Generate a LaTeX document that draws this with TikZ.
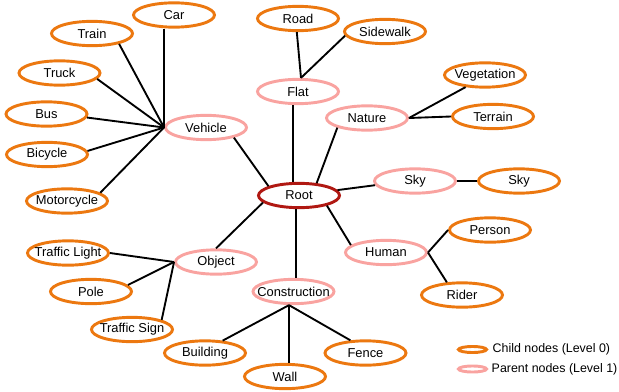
\documentclass[tikz,border=0pt]{standalone}
\usepackage{fontspec}
\setmainfont{Liberation Sans}
\usetikzlibrary{calc,shapes.geometric}
\definecolor{childorange}{RGB}{236,120,16}
\definecolor{parentpink}{RGB}{249,163,160}
\definecolor{rootred}{RGB}{176,24,18}
\newcommand{\lbl}[1]{\makebox[0pt]{#1}}
\tikzset{
	basenode/.style={ellipse, line width=2.5pt, minimum width=2.43cm, minimum height=0.73cm, inner sep=0pt, fill=white, font=\fontsize{11}{13}\selectfont},
	childnode/.style={basenode, draw=childorange},
	parentnode/.style={basenode, draw=parentpink},
	rootnode/.style={basenode, draw=rootred},
	keynode/.style={minimum width=0.84cm, minimum height=0.18cm},
	keytext/.style={anchor=west, inner sep=0pt, font=\fontsize{10.6}{13}\selectfont},
	link/.style={line width=1.6pt, black},
}

\begin{document}
\begin{tikzpicture}[x=0.03cm, y=-0.03cm]
		%%%%% START %%%%%
		\useasboundingbox (0, 0) rectangle (619, 391);
		
		\node[rootnode] (root) at (299, 195.5) {\lbl{Root}};
		
		\node[parentnode] (vehicle) at (206, 127.5) {\lbl{Vehicle}};
		\node[parentnode] (flat) at (298, 91.5) {\lbl{Flat}};
		\node[parentnode] (nature) at (367, 118) {\lbl{Nature}};
		\node[parentnode] (skyparent) at (415, 181) {\lbl{Sky}};
		\node[parentnode] (human) at (386, 252.5) {\lbl{Human}};
		\node[parentnode] (construction) at (293.5, 291.5) {\lbl{Construction}};
		\node[parentnode] (object) at (216, 262) {\lbl{Object}};
		
		\node[childnode] (car) at (174, 15) {\lbl{Car}};
		\node[childnode] (train) at (92, 33.5) {\lbl{Train}};
		\node[childnode] (truck) at (59.5, 73) {\lbl{Truck}};
		\node[childnode] (bus) at (46.5, 114) {\lbl{Bus}};
		\node[childnode] (bicycle) at (47, 154.5) {\lbl{Bicycle}};
		\node[childnode] (motorcycle) at (67, 201) {\lbl{Motorcycle}};
		
		\node[childnode] (road) at (298, 18.5) {\lbl{Road}};
		\node[childnode] (sidewalk) at (385, 31.5) {\lbl{Sidewalk}};
		
		\node[childnode] (vegetation) at (485, 75) {\lbl{Vegetation}};
		\node[childnode] (terrain) at (493, 116.5) {\lbl{Terrain}};
		
		\node[childnode] (skychild) at (519, 181) {\lbl{Sky}};
		
		\node[childnode] (person) at (490, 230) {\lbl{Person}};
		\node[childnode] (rider) at (462, 295) {\lbl{Rider}};
		
		\node[childnode] (building) at (205, 353) {\lbl{Building}};
		\node[childnode] (wall) at (285, 376.5) {\lbl{Wall}};
		\node[childnode] (fence) at (365.5, 353) {\lbl{Fence}};
		
		\node[childnode] (trafficlight) at (68, 253) {\lbl{Traffic Light}};
		\node[childnode] (pole) at (91, 291.5) {\lbl{Pole}};
		\node[childnode] (trafficsign) at (132, 329.5) {\lbl{Traffic Sign}};
		
		% vehicle
		\draw[link] (root.163) -- (vehicle.-20);
		\draw[link] (vehicle.west) -- (vehicle.west |- car.south);
		\draw[link] (vehicle.west) -- (train.-21);
		\draw[link] (vehicle.west) -- (truck.-9);
		\draw[link] (vehicle.west) -- (bus.-5);
		\draw[link] (vehicle.west) -- (bicycle.5);
		\draw[link] (vehicle.west) -- (motorcycle.14);
		
		% flat
		\draw[link] ($(flat.south)+(-5, 0)$) -- ($(root.north)+(-6, 0)$);
		\draw[link] (road.-95) -- ($(flat.north)+(3, 0)$);
		\draw[link] (sidewalk.186) -- ($(flat.north)+(3, 0)$);
		
		% nature
		\draw[link] (root.35) -- (nature.198);
		\draw[link] (nature.east) -- (vegetation.212);
		\draw[link] (nature.east) -- (terrain.west);
		
		% sky
		\draw[link] (root.8) -- (skyparent.186);
		\draw[link] (skyparent.east) -- (skychild.west);
		
		% human
		\draw[link] (root.-20) -- (human.168);
		\draw[link] (human.east) -- (person.west);
		\draw[link] (human.east) -- (rider.140);
		
		% construction
		\draw[link] ($(root.south)+(-3, 0)$) -- ($(construction.north)+(2.5, 0)$);
		\coordinate (conhub) at ($(construction.south)+(-4.5, 0)$);
		\draw[link] (conhub) -- (building.35);
		\draw[link] (conhub) -- (conhub |- wall.north);
		\draw[link] (conhub) -- (fence.140);
		
		% object
		\draw[link] (root.191) -- (object.north);
		\draw[link] (object.west) -- (trafficlight.east);
		\draw[link] (object.west) -- (pole.10);
		\draw[link] (object.west) -- (trafficsign.18);
		
		% legend
		\node[childnode, keynode] (keychild) at (472.5, 349.5) {};
		\node[keytext] (keychildtext) at (492.5, 349.5) {Child nodes (Level 0)};
		\node[parentnode, keynode] (keyparent) at (472.5, 369) {};
		\node[keytext] (keyparenttext) at (491.5, 369) {Parent nodes (Level 1)};
		%%%%% END %%%%%
\end{tikzpicture}
\end{document}
